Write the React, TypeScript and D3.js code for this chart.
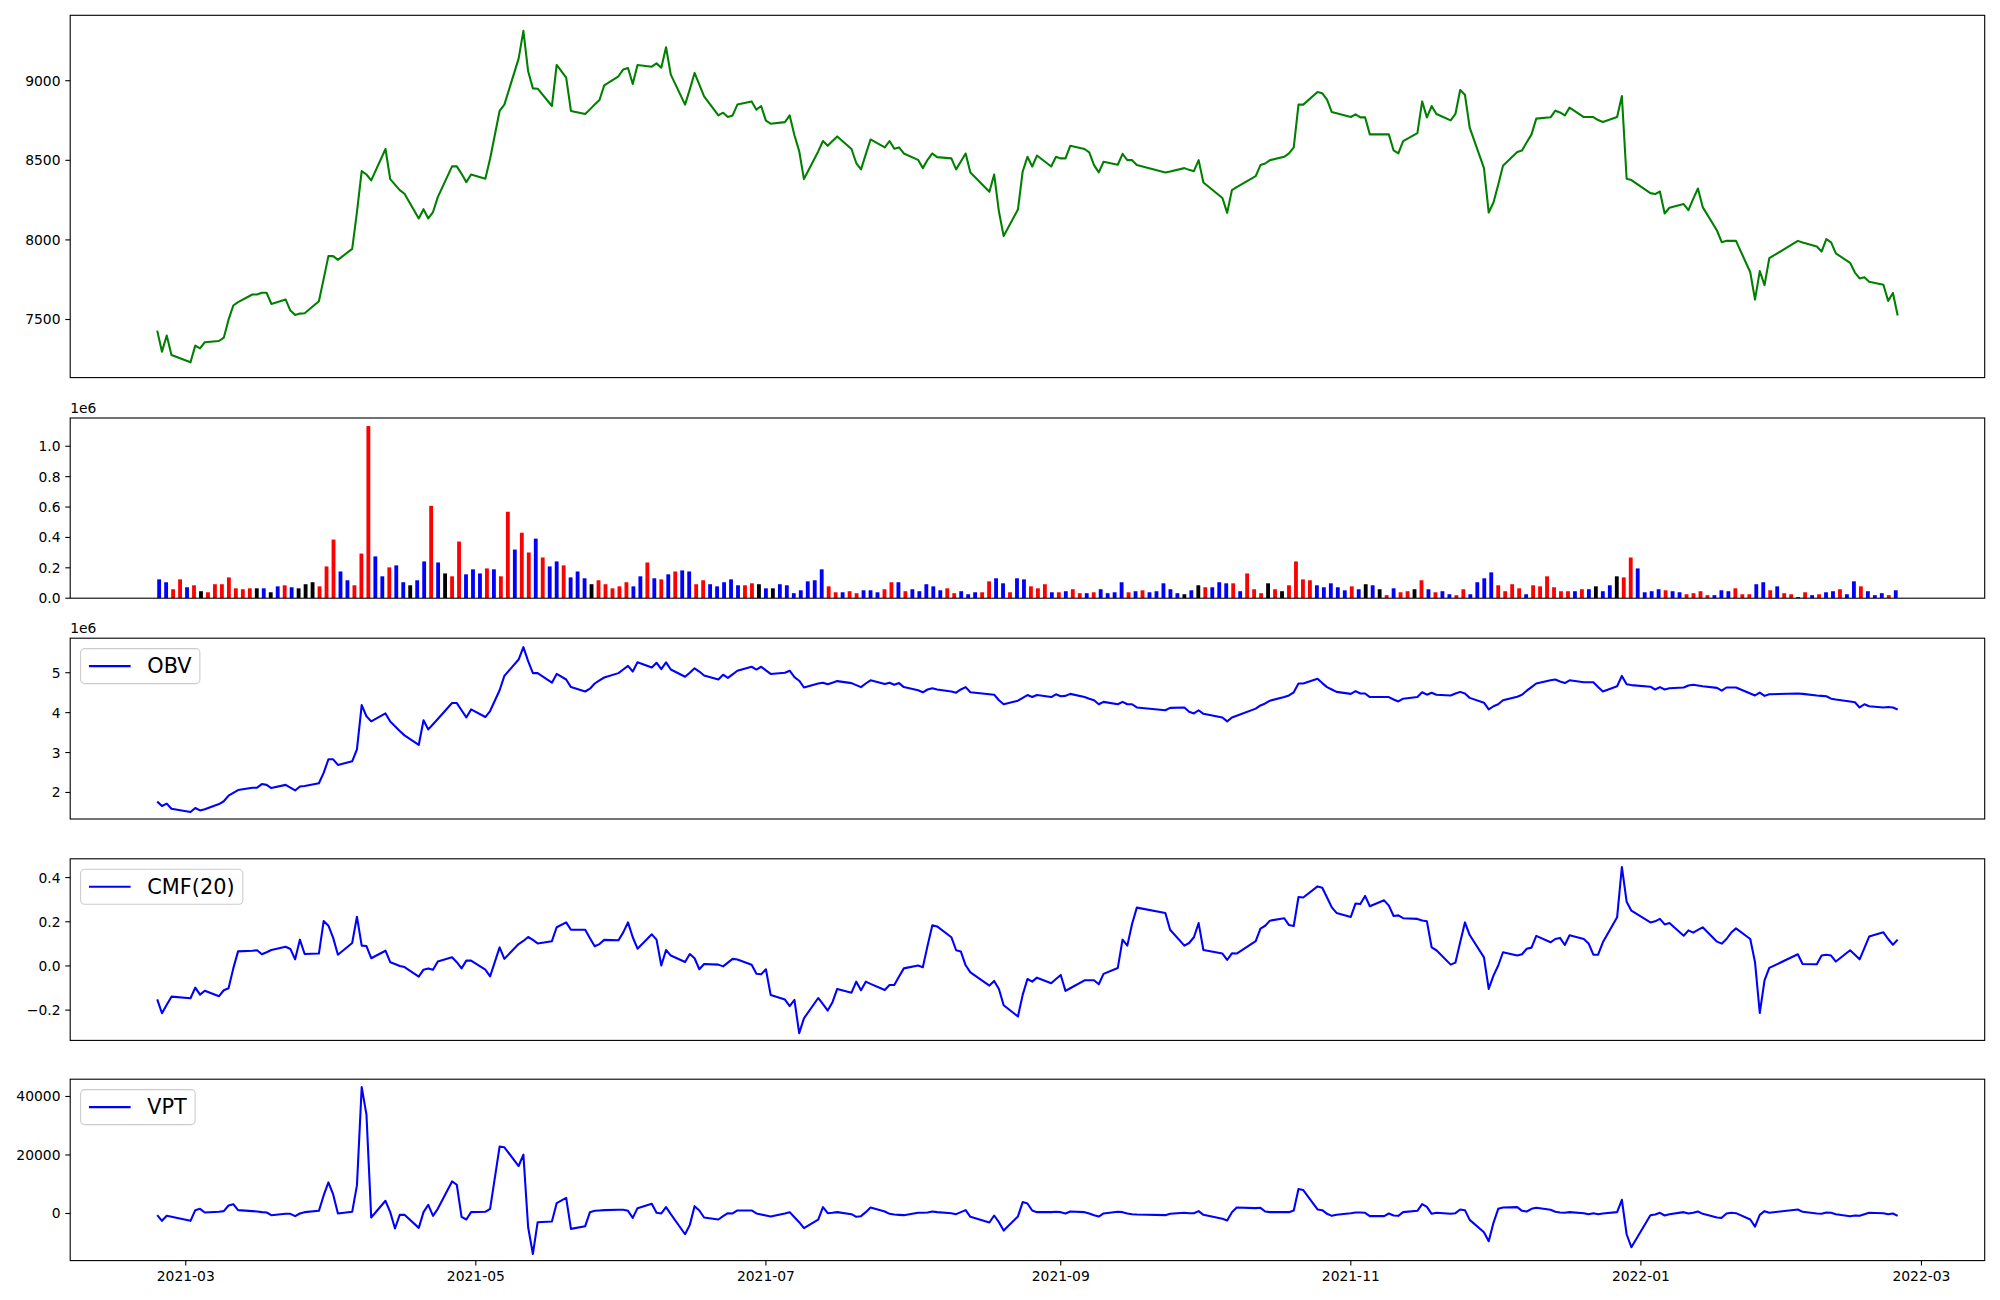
import React from 'react';
import * as d3 from 'd3';

// ---------- DATA ----------
const firstDay = '2021-02-23';
const lastDay = '2022-02-24';
const holidays = ['2021-03-01','2021-05-05','2021-05-19','2021-08-16','2021-09-20','2021-09-21','2021-09-22','2021-10-04','2021-10-11','2021-12-31','2022-01-31','2022-02-01','2022-02-02'];

const closePrice = [
7430,7298,7399,7277,7231,7336,7319,7357,7365,7386,
7499,7588,7609,7657,7657,7668,7668,7598,7626,7556,
7529,7537,7539,7615,7755,7898,7898,7875,7944,8175,
8432,8411,8374,8571,8382,8347,8313,8290,8135,8193,
8135,8175,8269,8462,8462,8415,8363,8411,8384,8510,
8810,8850,9139,9313,9059,8952,8950,8841,9099,9019,
8810,8791,8820,8850,8879,8971,9028,9071,9080,8979,
9099,9088,9109,9082,9210,9038,8850,8946,9049,8975,
8902,8782,8799,8772,8782,8850,8870,8818,8841,8749,
8730,8740,8782,8657,8558,8382,8556,8621,8591,8621,
8650,8571,8483,8443,8537,8631,8581,8621,8573,8581,
8543,8503,8451,8503,8543,8520,8512,8443,8493,8543,
8424,8302,8411,8178,8024,8191,8430,8522,8461,8530,
8461,8522,8512,8512,8591,8571,8550,8470,8424,8491,
8472,8541,8501,8501,8470,8424,8430,8451,8440,8432,
8501,8361,8263,8170,8313,8332,8401,8470,8480,8501,
8522,8543,8581,8850,8850,8929,8921,8881,8803,8795,
8772,8789,8770,8770,8663,8663,8663,8562,8543,8621,
8671,8870,8770,8841,8791,8751,8791,8942,8912,8705,
8451,8172,8235,8346,8466,8552,8562,8613,8663,8762,
8770,8812,8801,8782,8831,8772,8772,8772,8753,8741,
8772,8904,8384,8376,8294,8288,8304,8166,8202,8225,
8187,8258,8323,8206,8059,7986,7994,7994,7994,7797,
7625,7804,7716,7885,7994,7984,7959,7927,8005,7984,
7915,7856,7795,7758,7766,7737,7718,7617,7667,7525
];

// volume in thousands of shares
const volumeK = [
124,105,59,124,72,85,46,39,92,92,
137,65,59,65,65,65,39,78,85,72,
65,92,105,78,209,386,176,118,85,294,
1133,275,144,203,216,105,85,118,242,608,
235,163,144,373,157,190,163,196,190,144,
569,320,431,301,392,268,209,242,216,137,
176,131,92,118,92,65,78,105,78,144,
235,131,124,157,176,183,176,92,118,92,
78,105,124,85,85,98,92,65,65,92,
85,33,52,111,118,190,78,39,39,46,
33,52,52,39,59,105,105,46,59,46,
92,78,52,65,33,46,26,39,39,111,
131,98,39,131,124,78,65,92,39,39,
46,59,33,33,39,59,33,39,105,39,
46,52,39,46,98,59,33,26,52,85,
72,72,105,98,98,46,163,59,33,98,
59,46,85,242,124,118,85,72,98,72,
52,78,59,92,85,59,20,65,39,46,
59,118,59,39,46,26,20,59,26,105,
131,170,85,46,92,65,26,85,78,144,
72,46,46,46,59,59,78,46,85,144,
137,268,196,39,46,59,52,46,39,26,
33,46,20,20,52,46,65,26,26,92,
105,52,78,33,26,7,39,20,26,39,
46,59,26,111,78,46,20,33,20,52
];

// r = up candle, b = down candle, k = unchanged
const barColorCodes = (
'bbrrbrkrrr'+'rrrrkbkbrb'+'kkkrrrbbrr'+'rbbrbbkbbr'+'bkrrbbbrbr'+
'rbrrbrbbrb'+'bbkrrrrrbb'+'rbrbrbbrrb'+'bbbbrrkbkb'+'bbbbbbrrbr'+
'rbbbrrbrbb'+'bbbrrbbbrr'+'bbrbbrrrbr'+'brrbrbbbbr'+'brbbbbbkbk'+
'rbbbrbrrrk'+'rkrrrrbbbb'+'brbkbkrbrr'+'krbrbbrrbb'+'bbrrrrbrrr'+
'rrrbrbkbbk'+'rrbbbbrbbr'+'rrrbbbrrrb'+'brbrrkrbrb'+'brbbrbbbrb'
).split('');

// OBV in millions
const obvM = [
1.77,1.66,1.72,1.59,1.51,1.61,1.55,1.58,1.71,1.78,
1.92,1.99,2.06,2.12,2.12,2.21,2.19,2.11,2.19,2.12,
2.05,2.15,2.16,2.23,2.49,2.83,2.83,2.69,2.78,3.08,
4.19,3.91,3.78,3.98,3.78,3.66,3.54,3.43,3.19,3.81,
3.58,3.71,3.84,4.24,4.24,4.06,3.88,4.08,3.89,4.04,
4.56,4.92,5.33,5.64,5.29,4.99,4.99,4.75,4.97,4.83,
4.64,4.53,4.60,4.73,4.81,4.88,4.99,5.08,5.17,5.03,
5.26,5.13,5.25,5.09,5.26,5.08,4.90,5.00,5.11,5.03,
4.93,4.83,4.95,4.87,4.96,5.05,5.15,5.08,5.15,5.06,
4.97,5.00,5.05,4.89,4.80,4.63,4.73,4.75,4.71,4.75,
4.79,4.74,4.69,4.64,4.73,4.81,4.72,4.75,4.70,4.74,
4.64,4.56,4.51,4.58,4.61,4.58,4.53,4.50,4.58,4.64,
4.51,4.46,4.45,4.31,4.21,4.30,4.37,4.44,4.39,4.44,
4.39,4.46,4.41,4.42,4.47,4.39,4.35,4.31,4.21,4.27,
4.21,4.27,4.21,4.21,4.13,4.06,4.12,4.13,4.02,3.98,
4.06,3.97,3.88,3.78,3.88,3.92,4.10,4.18,4.23,4.30,
4.39,4.43,4.51,4.73,4.73,4.85,4.74,4.64,4.58,4.52,
4.47,4.54,4.48,4.48,4.39,4.39,4.39,4.33,4.28,4.35,
4.39,4.51,4.45,4.50,4.45,4.43,4.48,4.52,4.48,4.37,
4.25,4.08,4.16,4.21,4.31,4.40,4.45,4.55,4.64,4.73,
4.81,4.83,4.78,4.74,4.81,4.76,4.76,4.76,4.64,4.53,
4.66,4.92,4.71,4.69,4.65,4.58,4.64,4.58,4.61,4.63,
4.68,4.70,4.68,4.66,4.62,4.55,4.63,4.63,4.63,4.48,
4.43,4.50,4.42,4.46,4.48,4.47,4.43,4.42,4.41,4.35,
4.33,4.28,4.26,4.13,4.21,4.16,4.13,4.14,4.13,4.08
];

const cmf20 = [
-0.151,-0.214,-0.176,-0.139,-0.146,-0.098,-0.130,-0.112,-0.137,-0.110,
-0.101,-0.011,0.066,0.069,0.071,0.053,0.062,0.072,0.087,0.077,
0.030,0.119,0.054,0.056,0.203,0.182,0.127,0.051,0.104,0.223,
0.092,0.090,0.035,0.069,0.017,0.009,0.000,-0.005,-0.048,-0.017,
-0.011,-0.017,0.020,0.039,0.017,-0.011,0.024,0.024,-0.017,-0.047,
0.084,0.032,0.099,0.113,0.131,0.118,0.102,0.112,0.175,0.197,
0.164,0.164,0.125,0.089,0.099,0.118,0.116,0.152,0.197,0.130,
0.078,0.143,0.119,0.002,0.072,0.047,0.018,0.054,0.035,-0.015,
0.009,0.006,-0.002,0.015,0.032,0.029,0.005,-0.035,-0.038,-0.015,
-0.131,-0.152,-0.182,-0.154,-0.304,-0.237,-0.145,-0.173,-0.202,-0.164,
-0.104,-0.121,-0.071,-0.110,-0.071,-0.081,-0.109,-0.086,-0.086,-0.048,
-0.011,0.002,-0.006,0.092,0.184,0.179,0.130,0.071,0.065,0.003,
-0.029,-0.089,-0.068,-0.104,-0.178,-0.229,-0.131,-0.059,-0.071,-0.053,
-0.078,-0.059,-0.041,-0.113,-0.101,-0.065,-0.065,-0.065,-0.083,-0.036,
-0.009,0.119,0.092,0.190,0.264,0.240,0.164,0.092,0.104,0.130,
0.194,0.072,0.056,0.027,0.057,0.056,0.112,0.169,0.182,0.205,
0.216,0.185,0.181,0.312,0.310,0.360,0.354,0.310,0.265,0.240,
0.222,0.283,0.280,0.317,0.270,0.297,0.273,0.226,0.229,0.216,
0.213,0.206,0.202,0.084,0.071,0.006,0.015,0.107,0.197,0.140,
0.039,-0.104,-0.044,0.002,0.062,0.047,0.053,0.078,0.083,0.136,
0.107,0.122,0.127,0.095,0.139,0.122,0.102,0.051,0.051,0.107,
0.220,0.448,0.291,0.250,0.197,0.202,0.213,0.188,0.194,0.137,
0.161,0.151,0.163,0.175,0.110,0.101,0.122,0.151,0.170,0.122,
0.017,-0.213,-0.065,-0.009,0.053,0.009,0.008,0.047,0.051,0.047,
0.020,0.071,0.051,0.030,0.081,0.133,0.152,0.122,0.096,0.119
];

const vpt = [
-570,-2510,-800,-1140,-2510,1140,1600,340,570,800,
2740,3200,1140,800,690,460,340,-570,-110,-110,
-910,0,460,910,6170,10630,6520,0,570,9600,
43200,33800,-1370,4340,460,-5140,-460,-460,-4910,460,
2970,-800,1600,10970,9830,-1140,-2060,460,570,1600,
22860,22630,16230,20120,-4690,-13830,-2970,-2740,3540,5370,
-5260,-4340,460,910,1030,1140,1260,1260,910,-1490,
1830,3310,230,0,2170,-230,-7090,-3890,2510,1030,
-1370,-2060,-910,110,0,1030,1030,0,-340,-690,
-1030,0,460,-1260,-2970,-5030,-2060,2170,110,230,
460,-230,-1140,-910,460,2060,690,-110,-340,-460,
-570,230,230,340,690,460,110,-230,460,1140,
-1140,-3090,-690,-2970,-5830,-1000,3890,3430,1030,460,
460,570,460,0,690,460,0,-570,-1030,0,
570,460,0,-230,-340,-570,-110,230,110,110,
800,-460,-1830,-2400,460,2060,1830,1940,690,460,
460,460,1030,8340,8000,1370,1140,-110,-800,-460,
110,340,340,230,-910,-910,0,-690,-800,460,
910,3200,2290,-110,230,-110,110,1370,1140,-2170,
-6400,-9490,-3200,1600,2060,2170,910,690,1600,1940,
1260,570,340,230,460,110,-230,110,-230,0,
460,4690,-7090,-11540,-570,-340,230,-690,-230,460,
0,230,690,-110,-1370,-1490,0,230,110,-2060,
-4460,-460,800,230,1370,570,0,-110,340,230,
-230,-910,-690,-800,-230,230,110,-230,0,-800
];

const priceTicks = [7500, 8000, 8500, 9000];
const volumeTicks = [0, 0.2, 0.4, 0.6, 0.8, 1.0];
const obvTicks = [2, 3, 4, 5];
const cmfTicks = [-0.2, 0, 0.2, 0.4];
const vptTicks = [0, 20000, 40000];
const monthTickLabels = ['2021-03', '2021-05', '2021-07', '2021-09', '2021-11', '2022-01', '2022-03'];

// ---------- LAYOUT ----------
const W = 2000, H = 1300;
const L = 70.2, R = 1984.7;
const panels = [
  { top: 15.3, bottom: 377.6 },
  { top: 418.0, bottom: 598.2 },
  { top: 638.2, bottom: 819.0 },
  { top: 858.8, bottom: 1040.4 },
  { top: 1079.2, bottom: 1260.6 },
];
const FONT = '"DejaVu Sans", sans-serif';
const TICK_FS = 13.89;
const LEG_FS = 20.83;
const TICK_LEN = 4.86;
const TICK_PAD = 4.86;
const COLORS: Record<string, string> = { r: '#ff0000', b: '#0000ff', k: '#000000' };

function tradingDays(): Date[] {
  const out: Date[] = [];
  const hs = new Set(holidays);
  const end = new Date(lastDay + 'T00:00:00Z').getTime();
  for (let t = new Date(firstDay + 'T00:00:00Z').getTime(); t <= end; t += 86400000) {
    const d = new Date(t);
    const wd = d.getUTCDay();
    if (wd === 0 || wd === 6 || hs.has(d.toISOString().slice(0, 10))) continue;
    out.push(d);
  }
  return out;
}

function measure(text: string, fs: number): number {
  if (typeof document === 'undefined') return text.length * fs * 0.6;
  const c = document.createElement('canvas').getContext('2d');
  if (!c) return text.length * fs * 0.6;
  c.font = `${fs}px "DejaVu Sans"`;
  return c.measureText(text).width;
}

function YAxis({ scale, ticks, fmt }: { scale: d3.ScaleLinear<number, number>; ticks: number[]; fmt: (v: number) => string }) {
  return (
    <g>
      {ticks.map((t, i) => {
        const y = scale(t);
        return (
          <g key={i}>
            <line x1={L - TICK_LEN} x2={L} y1={y} y2={y} stroke="#000" strokeWidth={1.1} />
            <text x={L - TICK_LEN - TICK_PAD} y={y} textAnchor="end" dominantBaseline="central"
              fontFamily={FONT} fontSize={TICK_FS} fill="#000">{fmt(t)}</text>
          </g>
        );
      })}
    </g>
  );
}

function Frame({ p }: { p: { top: number; bottom: number } }) {
  return <rect x={L} y={p.top} width={R - L} height={p.bottom - p.top} fill="none" stroke="#000" strokeWidth={1.1} />;
}

function Legend({ p, label }: { p: { top: number; bottom: number }; label: string }) {
  const pad = 0.5 * LEG_FS;
  const bp = 0.4 * LEG_FS;
  const hl = 2.0 * LEG_FS;
  const htp = 0.8 * LEG_FS;
  const tw = measure(label, LEG_FS);
  const x0 = L + pad;
  const y0 = p.top + pad;
  const w = bp + hl + htp + tw + bp;
  const h = 35;
  const cy = y0 + h / 2;
  return (
    <g>
      <rect x={x0} y={y0} width={w} height={h} rx={4} ry={4} fill="#fff" fillOpacity={0.8} stroke="#cccccc" strokeWidth={1.1} />
      <line x1={x0 + bp} x2={x0 + bp + hl} y1={cy} y2={cy} stroke="#0000ff" strokeWidth={2.08} />
      <text x={x0 + bp + hl + htp} y={cy} dominantBaseline="central" fontFamily={FONT} fontSize={LEG_FS} fill="#000">{label}</text>
    </g>
  );
}

const minus = (s: string) => s.replace('-', '\u2212');

export default function App() {
  const dates = tradingDays();
  const n = Math.min(dates.length, closePrice.length);
  const t0 = dates[0].getTime();
  const t1 = dates[n - 1].getTime();
  const marg = (t1 - t0) * 0.05;
  const x = d3.scaleUtc().domain([new Date(t0 - marg), new Date(t1 + marg)]).range([L, R]);

  const barW = 0.55;
  const nb = volumeK.length;
  const span = (nb - 1) + barW;
  const xb = d3.scaleLinear()
    .domain([-barW / 2 - 0.05 * span, nb - 1 + barW / 2 + 0.05 * span])
    .range([L, R]);

  const yPrice = d3.scaleLinear().domain([7135, 9411]).range([panels[0].bottom, panels[0].top]);
  const yVol = d3.scaleLinear().domain([0, 1.186]).range([panels[1].bottom, panels[1].top]);
  const yObv = d3.scaleLinear().domain([1.335, 5.865]).range([panels[2].bottom, panels[2].top]);
  const yCmf = d3.scaleLinear().domain([-0.337, 0.485]).range([panels[3].bottom, panels[3].top]);
  const yVpt = d3.scaleLinear().domain([-16100, 45900]).range([panels[4].bottom, panels[4].top]);

  const mk = (arr: number[], ys: d3.ScaleLinear<number, number>) =>
    d3.line<number>().x((_, i) => x(dates[i])).y(v => ys(v))(arr.slice(0, n)) || '';

  const monthDates = monthTickLabels.map(s => new Date(s + '-01T00:00:00Z'));

  return (
    <svg width={W} height={H} viewBox={`0 0 ${W} ${H}`} style={{ position: 'absolute', left: 0, top: 0, background: '#fff' }}>
      <rect x={0} y={0} width={W} height={H} fill="#fff" />
      <defs>
        {panels.map((p, i) => (
          <clipPath id={`clip${i}`} key={i}>
            <rect x={L} y={p.top} width={R - L} height={p.bottom - p.top} />
          </clipPath>
        ))}
      </defs>

      {/* Panel 1: price */}
      <g clipPath="url(#clip0)">
        <path d={mk(closePrice, yPrice)} fill="none" stroke="#008000" strokeWidth={2.08} strokeLinejoin="round" />
      </g>
      <Frame p={panels[0]} />
      <YAxis scale={yPrice} ticks={priceTicks} fmt={v => String(v)} />

      {/* Panel 2: volume */}
      <g clipPath="url(#clip1)">
        {volumeK.map((v, i) => {
          const xc = xb(i);
          const w = xb(barW) - xb(0);
          const y = yVol(v / 1000);
          return <rect key={i} x={xc - w / 2} y={y} width={w} height={yVol(0) - y} fill={COLORS[barColorCodes[i]] || '#000'} />;
        })}
      </g>
      <Frame p={panels[1]} />
      <YAxis scale={yVol} ticks={volumeTicks} fmt={v => v.toFixed(1)} />
      <text x={L} y={panels[1].top - 5} fontFamily={FONT} fontSize={TICK_FS} fill="#000">1e6</text>

      {/* Panel 3: OBV */}
      <g clipPath="url(#clip2)">
        <path d={mk(obvM, yObv)} fill="none" stroke="#0000ff" strokeWidth={2.08} strokeLinejoin="round" />
      </g>
      <Frame p={panels[2]} />
      <YAxis scale={yObv} ticks={obvTicks} fmt={v => String(v)} />
      <text x={L} y={panels[2].top - 5} fontFamily={FONT} fontSize={TICK_FS} fill="#000">1e6</text>
      <Legend p={panels[2]} label="OBV" />

      {/* Panel 4: CMF */}
      <g clipPath="url(#clip3)">
        <path d={mk(cmf20, yCmf)} fill="none" stroke="#0000ff" strokeWidth={2.08} strokeLinejoin="round" />
      </g>
      <Frame p={panels[3]} />
      <YAxis scale={yCmf} ticks={cmfTicks} fmt={v => minus(v.toFixed(1))} />
      <Legend p={panels[3]} label="CMF(20)" />

      {/* Panel 5: VPT */}
      <g clipPath="url(#clip4)">
        <path d={mk(vpt, yVpt)} fill="none" stroke="#0000ff" strokeWidth={2.08} strokeLinejoin="round" />
      </g>
      <Frame p={panels[4]} />
      <YAxis scale={yVpt} ticks={vptTicks} fmt={v => String(v)} />
      <Legend p={panels[4]} label="VPT" />

      {/* x axis (bottom panel only) */}
      {monthDates.map((d, i) => {
        const xx = x(d);
        return (
          <g key={i}>
            <line x1={xx} x2={xx} y1={panels[4].bottom} y2={panels[4].bottom + TICK_LEN} stroke="#000" strokeWidth={1.1} />
            <text x={xx} y={panels[4].bottom + TICK_LEN + TICK_PAD + 10.6} textAnchor="middle"
              fontFamily={FONT} fontSize={TICK_FS} fill="#000">{monthTickLabels[i]}</text>
          </g>
        );
      })}
    </svg>
  );
}
